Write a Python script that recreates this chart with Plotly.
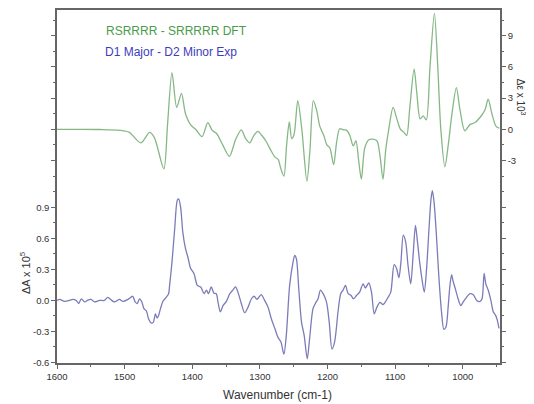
import plotly.graph_objects as go

# ---- Data ----
dft_wavenumber = [1600, 1567, 1537, 1507, 1493, 1476, 1463, 1456, 1442, 1436.5, 1430, 1423, 1416, 1410,
                  1402, 1395, 1385.5, 1377, 1370.5, 1364, 1355, 1345, 1336, 1327.5, 1321, 1315, 1309,
                  1303, 1297, 1290.5, 1284, 1278, 1273, 1269, 1264.5, 1260.5, 1256.5, 1253, 1249.5,
                  1244, 1238, 1230.5, 1226, 1221, 1216, 1211.5, 1205.5, 1201, 1196.5, 1191, 1186.5,
                  1182, 1176.5, 1171.5, 1167, 1162, 1158, 1154, 1150, 1145, 1139, 1133, 1127, 1122.5,
                  1118, 1114, 1109.5, 1103, 1097.5, 1092.5, 1087, 1083, 1078.5, 1072, 1068, 1063,
                  1058.5, 1054, 1048.5, 1042, 1037, 1032.5, 1026.5, 1021.5, 1016, 1009.5, 1004.5,
                  997, 989.5, 982, 971.5, 967, 962.5, 957, 951, 946]
dft_delta_eps = [0, 0, -0.02, -0.1, -0.3, -1.3, -0.3, -0.8, -3.8, 0.5, 5.45, 2.1, 3.45, 1.5,
                 0.4, 0.0, -0.7, 0.64, -0.1, -0.4, -1.5, -2.6, -1.0, -0.05, -0.9, -1.3, -0.6,
                 -0.2, -0.6, -1.2, -2.0, -2.65, -2.9, -3.8, -4.5, -1.5, 0.7, -0.9, -0.5,
                 2.75, 0.0, -5.0, -2.0, 2.75, 1.8, 0.3, -0.6, -1.5, -1.8, -3.4, -1.2,
                 0.05, -0.05, -0.1, -0.6, -1.6, -1.1, -3.0, -4.8, -1.8, -1.0, -0.95, -1.1, -2.5,
                 -4.8, -2.0, 0.0, 2.1, 1.0, 0.05, -0.3, -0.6, 2.0, 5.8, 3.5, 1.0,
                 1.3, 0.9, 6.0, 11.15, 6.0, 0.0, -3.6, -1.5, 1.5, 4.0, 2.0,
                 -0.15, 0.45, 0.65, 1.4, 1.9, 2.9, 1.5, 0.3, 0.1]

exp_wavenumber = [1600, 1596, 1589, 1581.5, 1576.5, 1571.5, 1568, 1564, 1559, 1554.5, 1549.5, 1544.5,
                  1537, 1530, 1525, 1519, 1515, 1507.5, 1502.5, 1495, 1488, 1484.5, 1481.5, 1478,
                  1474.5, 1471.5, 1468, 1464.5, 1460.5, 1457.5, 1454.5, 1452, 1450, 1447, 1443.5,
                  1438.5, 1435, 1433.5, 1430, 1426, 1422, 1420, 1417, 1414, 1410, 1406.5, 1402.5,
                  1397.5, 1392.5, 1387.5, 1382.5, 1379, 1376, 1372, 1368, 1364.5, 1362, 1358.5,
                  1354.5, 1349.5, 1344.5, 1340, 1336, 1332.5, 1327.5, 1322.5, 1317.5, 1312.5, 1308.5,
                  1304.5, 1301.5, 1298, 1293, 1288, 1283, 1278, 1273, 1269, 1264.5, 1261, 1256,
                  1251, 1248.5, 1246, 1242.5, 1238.5, 1234.5, 1230, 1226.5, 1221.5, 1218, 1214,
                  1210.5, 1206.5, 1201.5, 1197.5, 1193.5, 1189.5, 1184.5, 1180.5, 1177, 1173.5,
                  1169.5, 1165.5, 1161.5, 1157, 1152.5, 1147.5, 1144, 1139, 1135, 1131, 1127,
                  1122.5, 1118, 1115, 1110.5, 1106.5, 1101.5, 1098, 1094.5, 1091.5, 1088, 1084.5,
                  1081, 1077, 1073.5, 1070, 1067, 1063.5, 1060, 1057, 1053.5, 1050, 1047, 1045,
                  1042.5, 1039, 1035.5, 1031.5, 1028, 1025, 1021.5, 1019, 1016.5, 1014.5, 1010.5,
                  1007, 1003, 999.5, 994.5, 989.5, 984.5, 979.5, 974.5, 971.5, 968.5, 966, 962.5,
                  958.5, 955, 951.5, 949, 946.5]
exp_delta_a = [0.0, 0.01, -0.01, 0.0, 0.01, 0.0, -0.03, 0.015, -0.015, 0.003, 0.01, -0.015,
               0.0, 0.0, 0.03, 0.0, -0.015, 0.01, -0.01, 0.01, 0.04, -0.015, -0.03, 0.015,
               -0.015, -0.08, -0.1, -0.18, -0.22, -0.21, -0.13, -0.17, -0.15, -0.08, -0.01,
               0.03, 0.065, 0.145, 0.37, 0.69, 0.97, 0.98, 0.89, 0.66, 0.5, 0.42, 0.31,
               0.26, 0.145, 0.13, 0.065, 0.1, 0.065, 0.13, 0.07, 0.065, -0.016, -0.11,
               -0.05, -0.01, 0.065, 0.1, 0.13, 0.08, -0.03, -0.12, -0.065, 0.016, 0.04,
               0.01, 0.03, 0.055, 0.0, -0.065, -0.18, -0.27, -0.36, -0.40, -0.52, -0.34, 0.145,
               0.37, 0.435, 0.40, 0.11, -0.21, -0.34, -0.565, -0.37, -0.08, -0.03, 0.016,
               0.1, 0.065, -0.016, -0.21, -0.47, -0.40, -0.11, 0.065, 0.1, 0.145,
               0.065, 0.05, 0.016, 0.05, 0.08, 0.16, 0.12, 0.17, 0.08, -0.13, -0.065,
               -0.02, -0.04, -0.02, 0.03, 0.08, 0.345, 0.31, 0.22, 0.37, 0.63, 0.565,
               0.34, 0.16, 0.435, 0.725, 0.565, 0.355, 0.19, 0.08, 0.31, 0.69, 0.98, 1.06,
               0.95, 0.63, 0.24, -0.11, -0.28, -0.26, -0.05, 0.145, 0.25, 0.19, 0.1,
               0.016, -0.05, -0.016, 0.03, 0.065, 0.055, 0.0, -0.01, 0.016, 0.26, 0.16, 0.1,
               0.0, -0.11, -0.145, -0.19, -0.27]

left_tick_vals = [-0.6, -0.3, 0.0, 0.3, 0.6, 0.9]
left_tick_text = ["-0.6", "-0.3", "0.0", "0.3", "0.6", "0.9"]
left_minor_vals = [-0.45, -0.15, 0.15, 0.45, 0.75, 1.05]
right_tick_vals = [-3, 0, 3, 6, 9]
right_tick_text = ["-3", "0", "3", "6", "9"]
right_minor_vals = [-6, -4.5, -1.5, 1.5, 4.5, 7.5, 10.5]
x_tick_vals = [1600, 1500, 1400, 1300, 1200, 1100, 1000]
x_tick_text = ["1600", "1500", "1400", "1300", "1200", "1100", "1000"]

GREEN_LINE = "#86b886"
BLUE_LINE = "#7b7bb9"
AXIS = "#666666"
TICKFONT = dict(family="Liberation Sans, Arial, sans-serif", size=9.5, color="#333333")

fig = go.Figure()
fig.add_trace(go.Scatter(x=exp_wavenumber, y=exp_delta_a, mode="lines",
                         line=dict(color=BLUE_LINE, width=1.3, shape="spline", smoothing=0.8),
                         yaxis="y", showlegend=False, hoverinfo="skip"))
fig.add_trace(go.Scatter(x=dft_wavenumber, y=dft_delta_eps, mode="lines",
                         line=dict(color=GREEN_LINE, width=1.3, shape="spline", smoothing=0.8),
                         yaxis="y2", showlegend=False, hoverinfo="skip"))

# The page body adds an 8 px offset, so the figure is sized to the remaining area.
fig.update_layout(
    width=526, height=396,
    margin=dict(l=49, r=34, t=2, b=41, autoexpand=False),
    paper_bgcolor="white", plot_bgcolor="white",
    font=dict(family="Liberation Sans, Arial, sans-serif", color="#333333"),
    xaxis=dict(range=[1600, 945], showgrid=False, zeroline=False, automargin=False,
               showline=True, linecolor=AXIS, linewidth=1.5, mirror=True,
               tickmode="array", tickvals=x_tick_vals, ticktext=x_tick_text,
               ticks="outside", ticklen=4, tickcolor=AXIS, tickfont=TICKFONT,
               minor=dict(dtick=50, tick0=1600, ticks="outside", ticklen=2, tickcolor=AXIS)),
    yaxis=dict(range=[-0.605, 2.807], showgrid=False, zeroline=False, automargin=False,
               showline=True, linecolor=AXIS, linewidth=1.5, mirror="ticks",
               tickmode="array", tickvals=left_tick_vals, ticktext=left_tick_text,
               ticks="outside", ticklen=4, tickcolor=AXIS, tickfont=TICKFONT,
               minor=dict(tickmode="array", tickvals=left_minor_vals, ticks="outside",
                          ticklen=2, tickcolor=AXIS)),
    yaxis2=dict(range=[-22.47, 11.47], overlaying="y", side="right", automargin=False,
                showgrid=False, zeroline=False,
                showline=True, linecolor=AXIS, linewidth=1.5, mirror="ticks",
                tickmode="array", tickvals=right_tick_vals, ticktext=right_tick_text,
                ticks="outside", ticklen=4, tickcolor=AXIS, tickfont=TICKFONT,
                minor=dict(tickmode="array", tickvals=right_minor_vals, ticks="outside",
                           ticklen=2, tickcolor=AXIS)),
)

fig.add_annotation(text="Wavenumber (cm-1)", xref="paper", yref="paper",
                   x=0.497, y=-0.09, xanchor="center", yanchor="middle", showarrow=False,
                   font=dict(size=12, color="#333333"))
fig.add_annotation(text="RSRRRR - SRRRRR DFT", xref="paper", yref="paper",
                   x=0.106, y=0.9405, xanchor="left", yanchor="middle", showarrow=False,
                   font=dict(size=12, color="#4b9b4b"))
fig.add_annotation(text="D1 Major - D2 Minor Exp", xref="paper", yref="paper",
                   x=0.104, y=0.881, xanchor="left", yanchor="middle", showarrow=False,
                   font=dict(size=12, color="#3d3dbd"))
fig.add_annotation(text="ΔA x 10<sup>5</sup>", xref="paper", yref="paper",
                   x=-0.072, y=0.255, xanchor="center", yanchor="middle", showarrow=False,
                   textangle=-90, font=dict(size=11, color="#333333"))
fig.add_annotation(text="Δε x 10<sup>3</sup>", xref="paper", yref="paper",
                   x=1.048, y=0.7535, xanchor="center", yanchor="middle", showarrow=False,
                   textangle=90, font=dict(size=10, color="#333333"))

fig.write_html("out.html")
